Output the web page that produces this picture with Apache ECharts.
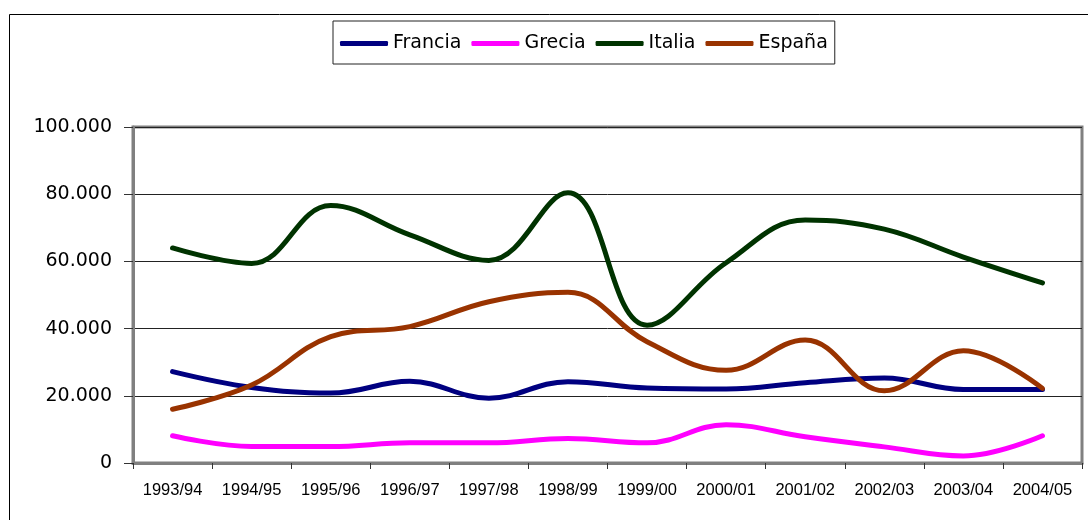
<!DOCTYPE html>
<html>
<head>
<meta charset="utf-8">
<script src="https://cdn.jsdelivr.net/npm/echarts@6/dist/echarts.min.js"></script>
<style>
  html, body { margin: 0; padding: 0; background: #fff; }
  #chart { width: 1088px; height: 520px; }
</style>
</head>
<body>
<div id="chart"></div>
<script>
// ---- Data ----
const categories = ['1993/94','1994/95','1995/96','1996/97','1997/98','1998/99','1999/00','2000/01','2001/02','2002/03','2003/04','2004/05'];
const francia = [27200, 22500, 20800, 24300, 19300, 24200, 22300, 22000, 23900, 25300, 21900, 21900];
const grecia  = [8100, 4900, 4900, 6000, 6000, 7300, 6000, 11400, 7800, 4800, 2100, 8100];
const italia  = [64000, 59400, 76600, 67900, 60300, 80400, 41000, 59600, 72300, 69600, 61300, 53600];
const espana  = [16000, 23200, 37600, 40600, 48000, 50800, 36100, 27600, 36600, 21500, 33400, 22200];
const seriesNames = ['Francia', 'Grecia', 'Italia', 'España'];
const yTicks = { min: 0, max: 100000, interval: 20000 };

const colors = ['#000080', '#FF00FF', '#003300', '#993300'];
const values = [francia, grecia, italia, espana];

function fmt(v) {
  return String(v).replace(/\B(?=(\d{3})+(?!\d))/g, '.');
}

const chart = echarts.init(document.getElementById('chart'), null, { renderer: 'canvas' });
chart.setOption({
  animation: false,
  backgroundColor: '#fff',
  graphic: [{
    type: 'rect',
    shape: { x: 9.5, y: 14.5, width: 1200, height: 700 },
    style: { fill: 'none', stroke: '#000', lineWidth: 1 },
    z: -10
  }],
  legend: {
    left: 333,
    top: 21,
    padding: [13, 7, 11, 7],
    borderColor: '#222',
    borderWidth: 1,
    itemGap: 10,
    itemWidth: 48,
    itemHeight: 5,
    icon: 'roundRect',
    textStyle: { fontFamily: 'DejaVu Sans', fontSize: 19, color: '#000' },
    data: seriesNames
  },
  grid: {
    left: 133, right: 6, top: 127, bottom: 57,
    show: true, borderColor: '#808080', borderWidth: 3, backgroundColor: 'transparent'
  },
  xAxis: {
    type: 'category',
    data: categories,
    boundaryGap: true,
    axisLine: { lineStyle: { color: '#808080', width: 3 } },
    axisTick: { show: true, length: 6, lineStyle: { color: '#333', width: 1 } },
    axisLabel: { margin: 19, fontFamily: 'Liberation Sans', fontSize: 16.5, color: '#000' }
  },
  yAxis: {
    type: 'value',
    min: yTicks.min, max: yTicks.max, interval: yTicks.interval,
    axisLine: { show: true, lineStyle: { color: '#808080', width: 3 } },
    axisTick: { show: true, length: 9, lineStyle: { color: '#333', width: 1 } },
    axisLabel: { margin: 21, fontFamily: 'DejaVu Sans', fontSize: 19, color: '#000', formatter: fmt },
    splitLine: { show: true, lineStyle: { color: '#222', width: 1 } }
  },
  series: seriesNames.map((name, i) => ({
    name: name,
    type: 'line',
    data: values[i],
    smooth: 0.4,
    showSymbol: false,
    symbol: 'none',
    color: colors[i],
    lineStyle: { color: colors[i], width: 5, cap: 'round', join: 'round' },
    itemStyle: { color: colors[i] }
  }))
});
</script>
</body>
</html>
